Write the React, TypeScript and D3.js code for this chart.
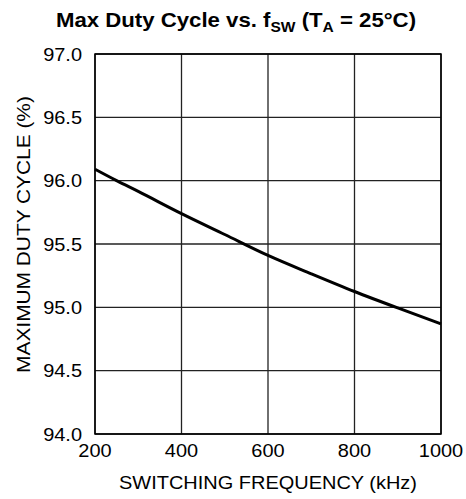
import React, { useEffect, useRef } from "react";
import * as d3 from "d3";

const freqKHz = [200, 250, 300, 400, 500, 600, 700, 800, 900, 1000];
const dutyPct = [96.09, 96.0, 95.915, 95.74, 95.575, 95.41, 95.265, 95.125, 94.995, 94.87];
const xTicks = [200, 400, 600, 800, 1000];
const yTicks = [94.0, 94.5, 95.0, 95.5, 96.0, 96.5, 97.0];

const W = 466;
const H = 499;

const App = () => {
  const svgRef = useRef<SVGSVGElement>(null);

  useEffect(() => {
    const root = d3.select(svgRef.current);
    root.selectAll("*").remove();

    const margin = { top: 54, right: 25, bottom: 65, left: 95 };
    const width = W - margin.left - margin.right;
    const height = H - margin.top - margin.bottom;
    const font = "'Liberation Sans', Arial, sans-serif";
    const sx = 1.11; // reference glyphs are a bit wider than Liberation Sans

    const svg = root
      .append("g")
      .attr("transform", `translate(${margin.left},${margin.top})`);

    const x = d3.scaleLinear().domain([200, 1000]).range([0, width]);
    const y = d3.scaleLinear().domain([94, 97]).range([height, 0]);

    // grid
    svg
      .append("g")
      .selectAll("line")
      .data(yTicks)
      .enter()
      .append("line")
      .attr("x1", 0)
      .attr("x2", width)
      .attr("y1", (d) => y(d))
      .attr("y2", (d) => y(d))
      .attr("stroke", "#222")
      .attr("stroke-width", 1.3);

    svg
      .append("g")
      .selectAll("line")
      .data(xTicks)
      .enter()
      .append("line")
      .attr("x1", (d) => x(d))
      .attr("x2", (d) => x(d))
      .attr("y1", 0)
      .attr("y2", height)
      .attr("stroke", "#222")
      .attr("stroke-width", 1.3);

    svg
      .append("rect")
      .attr("width", width)
      .attr("height", height)
      .attr("fill", "none")
      .attr("stroke", "#000")
      .attr("stroke-width", 1.5);

    // tick labels
    svg
      .append("g")
      .selectAll("text")
      .data(yTicks)
      .enter()
      .append("text")
      .attr("transform", (d) => `translate(-13,${y(d) + 6.5}) scale(${sx},1)`)
      .attr("text-anchor", "end")
      .attr("font-family", font)
      .attr("font-size", 18)
      .text((d) => d.toFixed(1));

    svg
      .append("g")
      .selectAll("text")
      .data(xTicks)
      .enter()
      .append("text")
      .attr("transform", (d) => `translate(${x(d)},${height + 23}) scale(${sx},1)`)
      .attr("text-anchor", "middle")
      .attr("font-family", font)
      .attr("font-size", 18)
      .text((d) => d);

    // curve
    const line = d3
      .line<number>()
      .x((_, i) => x(freqKHz[i]))
      .y((d) => y(d))
      .curve(d3.curveMonotoneX);

    svg
      .append("path")
      .datum(dutyPct)
      .attr("d", line)
      .attr("fill", "none")
      .attr("stroke", "#000")
      .attr("stroke-width", 3);

    // axis titles
    svg
      .append("text")
      .attr("transform", `translate(${width / 2},${height + 55}) scale(${sx},1)`)
      .attr("text-anchor", "middle")
      .attr("font-family", font)
      .attr("font-size", 18)
      .text("SWITCHING FREQUENCY (kHz)");

    svg
      .append("text")
      .attr("transform", `translate(${29.5 - margin.left},${234.5 - margin.top}) rotate(-90) scale(1.16,1)`)
      .attr("text-anchor", "middle")
      .attr("font-family", font)
      .attr("font-size", 18)
      .text("MAXIMUM DUTY CYCLE (%)");

    // title
    const title = root
      .append("text")
      .attr("transform", `translate(236,27) scale(${sx},1)`)
      .attr("text-anchor", "middle")
      .attr("font-family", font)
      .attr("font-weight", "bold")
      .attr("font-size", 20);
    title.append("tspan").text("Max Duty Cycle vs. f");
    title.append("tspan").attr("font-size", 14).attr("dy", 5).text("SW");
    title.append("tspan").attr("dy", -5).text(" (T");
    title.append("tspan").attr("font-size", 14).attr("dy", 5).text("A");
    title.append("tspan").attr("dy", -5).text(" = 25°C)");
  }, []);

  return (
    <div style={{ position: "absolute", left: 0, top: 0 }}>
      <svg ref={svgRef} width={W} height={H} style={{ display: "block", background: "#fff" }} />
    </div>
  );
};

export default App;
